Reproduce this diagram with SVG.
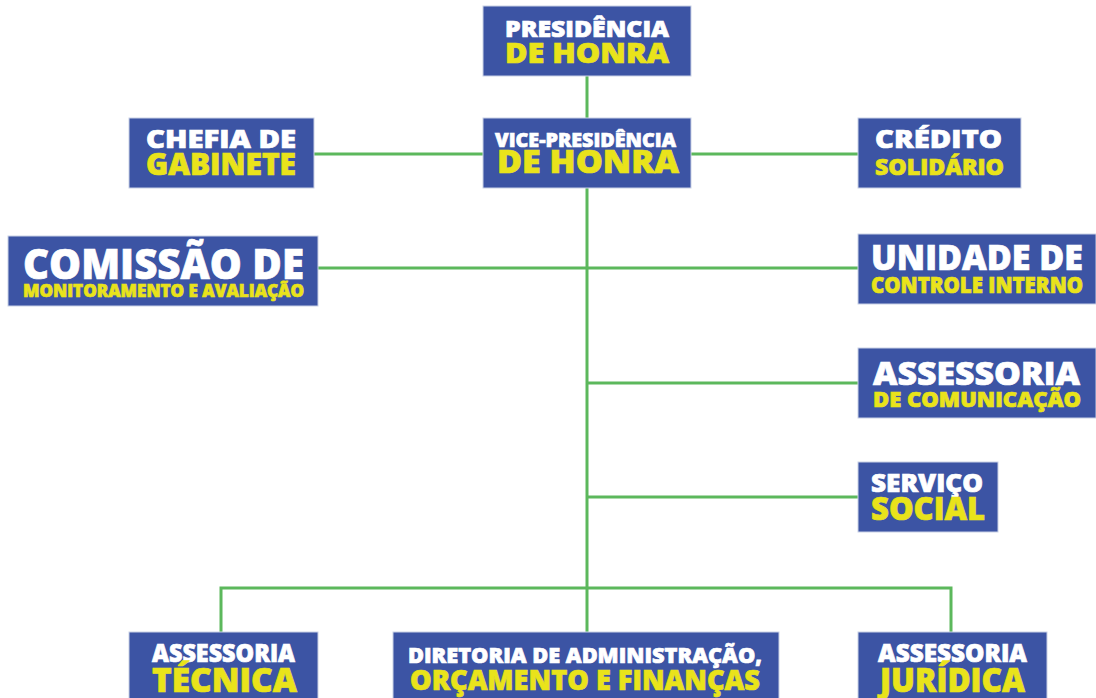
<svg xmlns="http://www.w3.org/2000/svg" width="1096" height="698" viewBox="0 0 1096 698">
<style>
.box{fill:#3c54a4;stroke:#c9d1e6;stroke-width:1}
.w{fill:#ffffff;stroke:#ffffff;stroke-width:0.7;font-family:"Open Sans","Liberation Sans",sans-serif;font-weight:800}
.y{fill:#e9e31b;stroke:#e9e31b;stroke-width:0.7;font-family:"Open Sans","Liberation Sans",sans-serif;font-weight:800}
.c{stroke:#5cb85c;stroke-width:3;fill:none}
</style>
<rect width="1096" height="698" fill="#ffffff"/>
<g id="connectors" class="c">
<path d="M587 76V118M587 188V632"/>
<path d="M314 154H483M691 154H858"/>
<path d="M318 268H858"/>
<path d="M587 383H858"/>
<path d="M587 497H858"/>
<path d="M221 632V588H951V632"/>
</g>
<g id="presidencia">
<rect class="box" x="483" y="6" width="208" height="70"/>
<text class="w" x="505" y="37" font-size="23" textLength="164" lengthAdjust="spacingAndGlyphs">PRESIDÊNCIA</text>
<text class="y" x="505" y="63" font-size="28" textLength="164" lengthAdjust="spacingAndGlyphs">DE HONRA</text>
</g>
<g id="vice-presidencia">
<rect class="box" x="483" y="118" width="208" height="70"/>
<text class="w" x="495" y="147" font-size="20" textLength="181" lengthAdjust="spacingAndGlyphs">VICE-PRESIDÊNCIA</text>
<text class="y" x="497" y="173" font-size="32" textLength="182" lengthAdjust="spacingAndGlyphs">DE HONRA</text>
</g>
<g id="chefia">
<rect class="box" x="129" y="118" width="185" height="70"/>
<text class="w" x="146" y="148" font-size="25" textLength="150" lengthAdjust="spacingAndGlyphs">CHEFIA DE</text>
<text class="y" x="146" y="175" font-size="30" textLength="150" lengthAdjust="spacingAndGlyphs">GABINETE</text>
</g>
<g id="credito">
<rect class="box" x="858" y="118" width="163" height="70"/>
<text class="w" x="875" y="148" font-size="25" textLength="127" lengthAdjust="spacingAndGlyphs">CRÉDITO</text>
<text class="y" x="875" y="175" font-size="22" textLength="129" lengthAdjust="spacingAndGlyphs">SOLIDÁRIO</text>
</g>
<g id="comissao">
<rect class="box" x="8" y="236" width="310" height="70"/>
<text class="w" x="23" y="279" font-size="42" textLength="281" lengthAdjust="spacingAndGlyphs">COMISSÃO DE</text>
<text class="y" x="23" y="297" font-size="17" textLength="281" lengthAdjust="spacingAndGlyphs">MONITORAMENTO E AVALIAÇÃO</text>
</g>
<g id="unidade">
<rect class="box" x="858" y="234" width="238" height="70"/>
<text class="w" x="871" y="270" font-size="35" textLength="212" lengthAdjust="spacingAndGlyphs">UNIDADE DE</text>
<text class="y" x="871" y="293" font-size="22" textLength="212" lengthAdjust="spacingAndGlyphs">CONTROLE INTERNO</text>
</g>
<g id="comunicacao">
<rect class="box" x="858" y="348" width="238" height="70"/>
<text class="w" x="873" y="385" font-size="32" textLength="207" lengthAdjust="spacingAndGlyphs">ASSESSORIA</text>
<text class="y" x="873" y="407" font-size="21" textLength="208" lengthAdjust="spacingAndGlyphs">DE COMUNICAÇÃO</text>
</g>
<g id="servico-social">
<rect class="box" x="858" y="462" width="140" height="70"/>
<text class="w" x="871" y="492" font-size="24" textLength="112" lengthAdjust="spacingAndGlyphs">SERVIÇO</text>
<text class="y" x="871" y="520" font-size="32" textLength="114" lengthAdjust="spacingAndGlyphs">SOCIAL</text>
</g>
<g id="tecnica">
<rect class="box" x="129" y="632" width="189" height="70"/>
<text class="w" x="152" y="662" font-size="24" textLength="143" lengthAdjust="spacingAndGlyphs">ASSESSORIA</text>
<text class="y" x="152" y="692" font-size="33" textLength="145" lengthAdjust="spacingAndGlyphs">TÉCNICA</text>
</g>
<g id="diretoria">
<rect class="box" x="393" y="632" width="386" height="70"/>
<text class="w" x="408" y="663" font-size="21" textLength="354" lengthAdjust="spacingAndGlyphs">DIRETORIA DE ADMINISTRAÇÃO,</text>
<text class="y" x="410" y="690" font-size="28" textLength="350" lengthAdjust="spacingAndGlyphs">ORÇAMENTO E FINANÇAS</text>
</g>
<g id="juridica">
<rect class="box" x="858" y="632" width="189" height="70"/>
<text class="w" x="878" y="662" font-size="24" textLength="149" lengthAdjust="spacingAndGlyphs">ASSESSORIA</text>
<text class="y" x="880" y="692" font-size="33" textLength="145" lengthAdjust="spacingAndGlyphs">JURÍDICA</text>
</g>
</svg>
